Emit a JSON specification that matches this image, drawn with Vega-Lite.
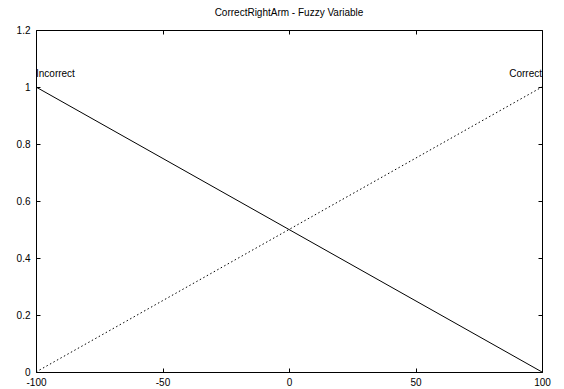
{
  "$schema": "https://vega.github.io/schema/vega-lite/v6.json",
  "width": 506,
  "height": 342,
  "autosize": "none",
  "padding": {"left": 36, "top": 30, "right": 22, "bottom": 17},
  "background": "white",
  "config": {
    "font": "Liberation Sans",
    "view": {"stroke": "black", "strokeWidth": 1},
    "axis": {"grid": false, "domain": false, "tickColor": "black", "tickSize": -4, "labelFontSize": 10, "labelColor": "black", "labelFont": "Liberation Sans", "title": null}
  },
  "title": {"text": "CorrectRightArm - Fuzzy Variable", "fontSize": 10, "fontWeight": "normal", "font": "Liberation Sans", "offset": 7, "color": "black"},
  "datasets": {
    "lines": [
      {"x": -100, "y": 1, "series": "Incorrect"},
      {"x": 100, "y": 0, "series": "Incorrect"},
      {"x": -100, "y": 0, "series": "Correct"},
      {"x": 100, "y": 1, "series": "Correct"}
    ]
  },
  "layer": [
    {
      "data": {"name": "lines"},
      "transform": [{"filter": "datum.series == 'Incorrect'"}],
      "mark": {"type": "line", "color": "black", "strokeWidth": 1},
      "encoding": {
        "x": {"field": "x", "type": "quantitative", "scale": {"domain": [-100, 100], "nice": false}, "axis": {"orient": "bottom", "values": [-100, -50, 0, 50, 100], "labelExpr": "'' + datum.value", "labelPadding": 9, "labelFlush": false}},
        "y": {"field": "y", "type": "quantitative", "scale": {"domain": [0, 1.2], "nice": false, "zero": false}, "axis": {"orient": "left", "values": [0, 0.2, 0.4, 0.6, 0.8, 1, 1.2], "format": ".1~f", "labelPadding": 10}}
      }
    },
    {
      "data": {"name": "lines"},
      "transform": [{"filter": "datum.series == 'Correct'"}],
      "mark": {"type": "line", "color": "black", "strokeWidth": 1, "strokeDash": [1.5, 2.5]},
      "encoding": {
        "x": {"field": "x", "type": "quantitative", "axis": {"orient": "top", "values": [-100, -50, 0, 50, 100], "labels": false}},
        "y": {"field": "y", "type": "quantitative", "axis": {"orient": "right", "values": [0, 0.2, 0.4, 0.6, 0.8, 1, 1.2], "labels": false}}
      }
    },
    {
      "data": {"values": [{"x": -100, "y": 1, "label": "Incorrect"}]},
      "mark": {"type": "text", "align": "left", "baseline": "alphabetic", "dy": -10, "fontSize": 10, "font": "Liberation Sans", "color": "black"},
      "encoding": {
        "x": {"field": "x", "type": "quantitative", "axis": null},
        "y": {"field": "y", "type": "quantitative", "axis": null},
        "text": {"field": "label"}
      }
    },
    {
      "data": {"values": [{"x": 100, "y": 1, "label": "Correct"}]},
      "mark": {"type": "text", "align": "right", "baseline": "alphabetic", "dy": -10, "fontSize": 10, "font": "Liberation Sans", "color": "black"},
      "encoding": {
        "x": {"field": "x", "type": "quantitative", "axis": null},
        "y": {"field": "y", "type": "quantitative", "axis": null},
        "text": {"field": "label"}
      }
    }
  ],
  "resolve": {"axis": {"x": "independent", "y": "independent"}}
}
